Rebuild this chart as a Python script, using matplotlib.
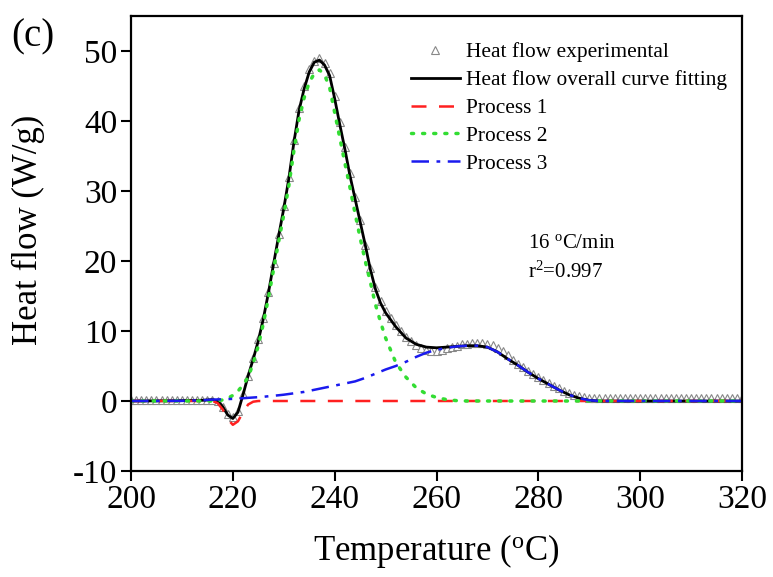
import numpy as np
import matplotlib
matplotlib.use("Agg")
import matplotlib.pyplot as plt

plt.rcParams["font.family"] = ["Liberation Serif", "DejaVu Serif"]
plt.rcParams["mathtext.fontset"] = "custom"
plt.rcParams["mathtext.rm"] = "Liberation Serif"
plt.rcParams["mathtext.it"] = "Liberation Serif:italic"
plt.rcParams["axes.unicode_minus"] = False

# temperature grid for the fitted curves (denser where the curves change fast)
temp_fit = [200, 205, 210, 214, 216, 217, 218, 219, 220, 221, 222, 223, 224, 225,
            226, 227, 228, 229, 230, 231, 232, 233, 234, 235, 236, 237, 238, 239,
            240, 241, 242, 243, 244, 245, 246, 247, 248, 249, 250, 252, 254, 256,
            258, 260, 262, 264, 266, 268, 270, 272, 274, 276, 278, 280, 282, 284,
            286, 288, 290, 292, 294, 296, 300, 305, 310, 315, 320]

overall_fit = [0.0, 0.02, 0.05, 0.1, 0.2, 0.0, -0.8, -2.0, -2.5, -1.6, 0.9, 3.6, 6.0, 8.6,
               11.8, 15.5, 19.6, 23.6, 27.5, 31.8, 37.0, 41.5, 44.6, 47.0, 48.4, 48.7, 48.0, 46.5,
               43.2, 39.5, 36.0, 32.2, 28.9, 25.6, 22.3, 18.8, 16.0, 14.0, 12.6, 10.6, 9.0, 8.1,
               7.7, 7.6, 7.7, 7.8, 7.9, 7.9, 7.7, 7.0, 6.0, 5.1, 4.1, 3.2, 2.4, 1.6,
               0.9, 0.4, 0.1, 0.0, 0.0, 0.0, 0.0, 0.0, 0.0, 0.0, 0.0]

process1 = [0.0, 0.0, 0.0, 0.0, 0.0, -0.3, -1.2, -2.6, -3.4, -2.9, -1.6, -0.5, -0.1, 0.0,
            0.0, 0.0, 0.0, 0.0, 0.0, 0.0, 0.0, 0.0, 0.0, 0.0, 0.0, 0.0, 0.0, 0.0,
            0.0, 0.0, 0.0, 0.0, 0.0, 0.0, 0.0, 0.0, 0.0, 0.0, 0.0, 0.0, 0.0, 0.0,
            0.0, 0.0, 0.0, 0.0, 0.0, 0.0, 0.0, 0.0, 0.0, 0.0, 0.0, 0.0, 0.0, 0.0,
            0.0, 0.0, 0.0, 0.0, 0.0, 0.0, 0.0, 0.0, 0.0, 0.0, 0.0]

process2 = [0.0, 0.0, 0.0, 0.0, 0.0, 0.05, 0.15, 0.4, 0.8, 1.4, 2.3, 3.4, 5.4, 7.9,
            11.1, 14.8, 18.8, 22.8, 26.6, 30.8, 35.8, 40.2, 43.3, 45.5, 46.8, 47.3, 46.6, 44.8,
            41.2, 37.6, 34.0, 30.5, 26.8, 23.3, 20.0, 17.0, 13.8, 11.3, 9.0, 5.5, 3.4, 1.9,
            1.0, 0.5, 0.2, 0.05, 0.0, 0.0, 0.0, 0.0, 0.0, 0.0, 0.0, 0.0, 0.0, 0.0,
            0.0, 0.0, 0.0, 0.0, 0.0, 0.0, 0.0, 0.0, 0.0, 0.0, 0.0]

process3 = [0.0, 0.0, 0.02, 0.1, 0.2, 0.22, 0.25, 0.28, 0.3, 0.35, 0.4, 0.45, 0.5, 0.55,
            0.6, 0.68, 0.75, 0.82, 0.9, 1.0, 1.1, 1.2, 1.3, 1.45, 1.6, 1.75, 1.9, 2.05,
            2.2, 2.35, 2.5, 2.65, 2.8, 3.05, 3.3, 3.6, 3.9, 4.2, 4.5, 5.0, 5.6, 6.3,
            6.9, 7.3, 7.6, 7.8, 7.9, 7.9, 7.7, 7.0, 6.0, 5.1, 4.1, 3.2, 2.4, 1.6,
            0.9, 0.4, 0.1, 0.0, 0.0, 0.0, 0.0, 0.0, 0.0, 0.0, 0.0]

# experimental points, one per degree from 200 to 320
temp_exp = list(range(200, 321))
heat_exp = [0.2] * 17 + [
    0.0, -0.8, -1.9, -2.3, -1.4, 1.0, 3.6, 6.1, 8.8, 11.9, 15.6, 19.7, 23.8,
    27.8, 32.0, 37.3, 41.8, 45.0, 47.4, 48.6, 49.0, 48.3, 46.9, 43.5, 39.9,
    36.3, 32.5, 29.2, 25.8, 22.3, 19.0, 16.3, 14.3, 12.9, 11.8, 10.9, 10.0,
    9.2, 8.5, 8.0, 7.6, 7.3, 7.2, 7.2, 7.3, 7.5, 7.7, 7.9, 8.1, 8.2, 8.3,
    8.3, 8.3, 8.2, 8.0, 7.6, 7.1, 6.5, 5.9, 5.3, 4.8, 4.3, 3.9, 3.4, 3.0,
    2.6, 2.2, 1.8, 1.4, 1.1, 0.9, 0.7, 0.6, 0.5] + [0.4] * 30

fig = plt.figure(figsize=(7.73, 5.77), dpi=100)
ax = fig.add_axes([0.1695, 0.1837, 0.7904, 0.7886])

ax.plot(temp_exp, heat_exp, linestyle="none", marker="^", markersize=5.5,
        markerfacecolor="white", markeredgecolor="#888888", markeredgewidth=0.8,
        label="Heat flow experimental")
ax.plot(temp_fit, overall_fit, color="black", lw=2.0, label="Heat flow overall curve fitting")
ax.plot(temp_fit, process1, color="#ff2020", lw=1.8, dashes=(6, 5), label="Process 1")
ax.plot(temp_fit, process2, color="#33dd33", lw=2.5, linestyle=(0, (0.6, 2.6)),
        dash_capstyle="round", label="Process 2")
ax.plot(temp_fit, process3, color="#1a1aee", lw=1.8, dashes=(7, 3, 1.5, 3), label="Process 3")

ax.set_xlim(200, 320)
ax.set_ylim(-10, 55)
ax.set_xticks(range(200, 321, 20))
ax.set_yticks(range(-10, 51, 10))
ax.tick_params(direction="out", length=7, width=1.5, labelsize=24, pad=3)
ax.tick_params(top=False, right=False)
for s in ax.spines.values():
    s.set_linewidth(1.6)

ax.set_xlabel("Temperature ($^{\\rm o}$C)", fontsize=25, labelpad=12)
ax.set_ylabel("Heat flow (W/g)", fontsize=25)
ax.yaxis.set_label_coords(-0.14, 0.53)

ax.legend(loc="upper right", bbox_to_anchor=(1.0, 0.975), frameon=False, fontsize=15.4,
          handlelength=2.3, handletextpad=0.28, labelspacing=0.37, borderaxespad=0.3)

ax.text(0.65, 0.49, "16 $^{\\rm o}$C/min", transform=ax.transAxes, fontsize=15)
ax.text(0.65, 0.425, "r$^2$=0.997", transform=ax.transAxes, fontsize=15)
fig.text(0.014, 0.92, "(c)", fontsize=28)

fig.savefig("out.png", dpi=100)
